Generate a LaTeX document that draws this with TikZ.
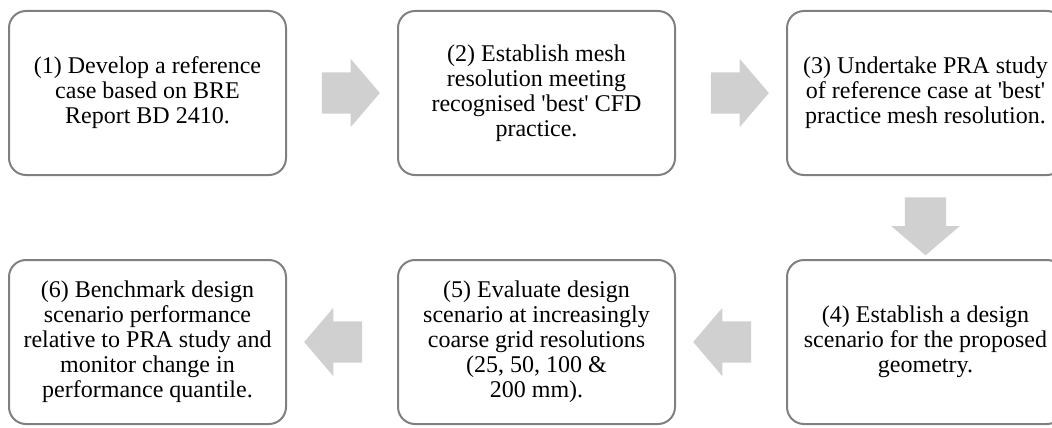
\documentclass[tikz,border=0pt]{standalone}
\usepackage{fontspec}
\setmainfont{Liberation Serif}
\usetikzlibrary{positioning,calc,shapes.arrows}
\definecolor{boxgray}{RGB}{128,128,128}
\definecolor{arrowgray}{RGB}{208,208,208}
\newcommand{\sq}{\textquotesingle}
\begin{document}
\begin{tikzpicture}[
	x=1pt,y=-1pt,
	line join=round,
	stepbox/.style={draw=boxgray,line width=2pt,fill=white,rounded corners=17pt,
		minimum width=277pt,minimum height=164pt,align=center,
		font=\fontsize{24}{25}\selectfont},
	flow/.style={single arrow,fill=arrowgray,draw=none,
		inner xsep=0pt,inner ysep=20.5pt,
		minimum height=58pt,minimum width=68pt,
		single arrow head extend=13.5pt,single arrow tip angle=99},
	flowdown/.style={flow,inner xsep=20.5pt,inner ysep=0pt,shape border rotate=270}
	]
	\clip (0,0) rectangle (1052,428);
	% top row
	\node[stepbox] (b1) at (147.5,93) {(1) Develop a reference\\case based on BRE\\Report BD 2410.};
	\node[stepbox,right=110pt of b1] (b2) {(2) Establish mesh\\resolution meeting\\recognised \sq best\sq{} CFD\\practice.};
	\node[stepbox,right=110pt of b2] (b3) {(3) Undertake PRA study\\of reference case at \sq best\sq\\practice mesh resolution.};
	% bottom row
	\node[stepbox,below=83pt of b3] (b4) {(4) Establish a design\\scenario for the proposed\\geometry.};
	\node[stepbox,left=110pt of b4] (b5) {(5) Evaluate design\\scenario at increasingly\\coarse grid resolutions\\(25, 50, 100 \&\\200 mm).};
	\node[stepbox,left=110pt of b5] (b6) {(6) Benchmark design\\scenario performance\\relative to PRA study and\\monitor change in\\performance quantile.};
	% block arrows
	\node[flow] (a12) at ($(b1.east)!0.5!(b2.west)$) {};
	\node[flow] (a23) at ($(b2.east)!0.5!(b3.west)$) {};
	\node[flowdown] (a34) at ($(b3.south)!0.5!(b4.north)$) {};
	\node[flow,shape border rotate=180] (a45) at ($(b4.west)!0.5!(b5.east)$) {};
	\node[flow,shape border rotate=180] (a56) at ($(b5.west)!0.5!(b6.east)$) {};
\end{tikzpicture}
\end{document}
